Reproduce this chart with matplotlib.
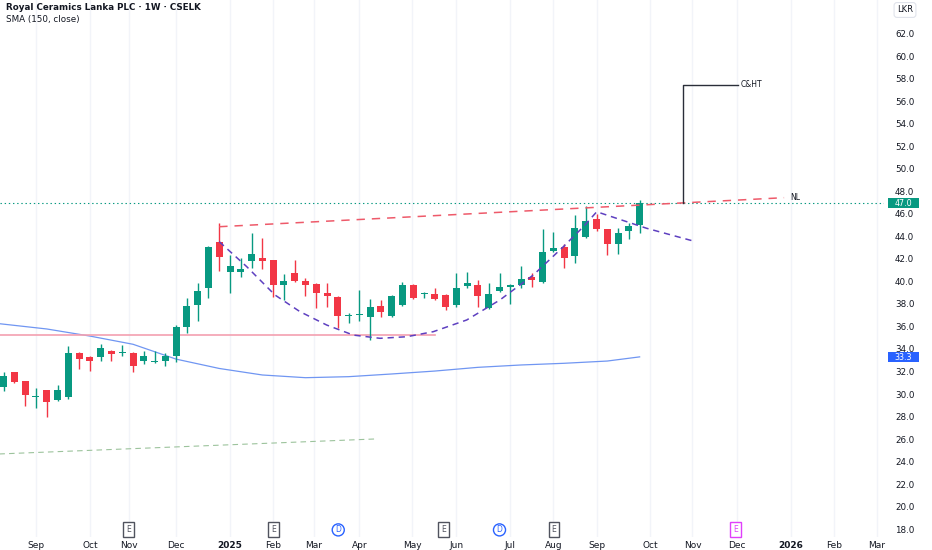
import matplotlib
matplotlib.use("Agg")
import matplotlib.pyplot as plt
from matplotlib.patches import Rectangle

W, H = 932, 550
plt.rcParams['font.family'] = ['DejaVu Sans']
plt.rcParams['lines.scale_dashes'] = False

# ---------------- data ----------------
# weekly candles, week index 0 = week of 2024-08-12
week_start = "2024-08-12"
opens = [30.65, 31.93, 31.16, 29.72, 30.33, 29.44, 29.71, 33.62, 33.32, 33.32,
         33.82, 33.65, 33.67, 32.93, 32.84, 32.93, 33.40, 35.96, 37.91, 39.40,
         43.48, 40.87, 40.87, 41.82, 42.06, 41.91, 39.69, 40.73, 40.04, 39.75,
         39.00, 38.65, 36.93, 36.98, 36.82, 37.82, 36.93, 37.91, 39.69, 38.85,
         38.89, 38.80, 37.91, 39.63, 39.69, 37.62, 39.18, 39.48, 39.69, 40.43,
         39.93, 42.71, 43.10, 42.30, 43.93, 45.53, 44.64, 43.31, 44.49, 45.02]
highs = [31.98, 31.98, 31.20, 30.56, 30.40, 30.80, 34.27, 33.73, 33.35, 34.42,
         33.90, 34.36, 33.70, 33.82, 33.82, 33.62, 36.10, 38.51, 39.84, 43.16,
         45.17, 42.36, 42.06, 44.27, 43.84, 41.95, 40.64, 41.91, 40.28, 39.84,
         39.84, 38.70, 37.17, 39.24, 38.42, 38.36, 38.80, 39.98, 39.75, 39.04,
         39.40, 38.85, 40.73, 40.87, 40.13, 39.90, 40.73, 39.75, 41.38, 40.73,
         44.64, 44.37, 43.30, 45.91, 46.71, 46.00, 44.70, 44.73, 45.23, 47.20]
lows = [30.30, 30.95, 28.96, 28.78, 27.93, 29.40, 29.56, 32.22, 32.04, 32.96,
        32.96, 33.38, 31.93, 32.67, 32.80, 32.51, 32.81, 35.40, 36.49, 38.56,
        40.93, 38.96, 40.43, 41.17, 41.08, 38.60, 38.36, 39.93, 38.71, 37.67,
        37.76, 35.84, 36.28, 36.52, 34.80, 36.87, 36.87, 37.85, 38.40, 38.51,
        38.35, 37.47, 37.75, 39.40, 37.70, 37.55, 39.04, 37.97, 39.40, 39.54,
        39.85, 42.60, 41.17, 41.67, 43.90, 44.49, 42.36, 42.42, 43.75, 44.34]
closes = [31.63, 31.09, 29.91, 29.80, 29.32, 30.33, 33.62, 33.11, 32.93, 34.12,
          33.53, 33.72, 32.51, 33.35, 32.90, 33.35, 35.98, 37.82, 39.16, 43.04,
          42.20, 41.40, 41.11, 42.44, 41.85, 39.69, 40.04, 40.04, 39.69, 39.00,
          38.71, 36.93, 37.00, 37.05, 37.70, 37.32, 38.71, 39.69, 38.51, 38.92,
          38.42, 37.70, 39.40, 39.84, 38.71, 38.89, 39.48, 39.69, 40.22, 40.13,
          42.60, 42.95, 42.12, 44.79, 45.40, 44.64, 43.31, 44.28, 44.93, 47.00]

# SMA(150) readings at selected weeks
sma_week = [-0.4, 4, 8, 12, 16, 20, 24, 28, 32, 36, 40, 44, 48, 52, 56, 59]
sma_vals = [36.25, 35.78, 35.15, 34.42, 33.10, 32.27, 31.69, 31.45, 31.54,
            31.78, 32.04, 32.37, 32.58, 32.73, 32.93, 33.30]

# time axis labels (week index positions)
tick_pos = [3, 8, 11.6, 16, 21, 25, 28.8, 33, 37.9, 42, 47, 51, 55, 60, 63.9,
            68, 73, 77, 81]
tick_labels = ["Sep", "Oct", "Nov", "Dec", "2025", "Feb", "Mar", "Apr", "May",
               "Jun", "Jul", "Aug", "Sep", "Oct", "Nov", "Dec", "2026", "Feb",
               "Mar"]
price_ticks = [18.0 + 2.0 * i for i in range(23)]

# events
event_pos = [11.56, 25.0, 31.04, 40.8, 46.0, 51.05, 67.9]
event_kind = ["E", "E", "D", "E", "D", "E", "E*"]

# drawings
neck_x = [20.0, 72.4]
neck_y = [44.87, 47.45]
cup_x = [20.0, 22.55, 25.17, 27.49, 29.97, 32.43, 34.91, 37.39, 39.86, 42.96,
         46.04, 49.14, 51.92, 53.78, 55.02, 59.65, 63.97]
cup_y = [43.54, 41.32, 38.80, 37.32, 36.13, 35.24, 34.95, 35.09, 35.54, 36.58,
         38.36, 40.58, 43.09, 44.87, 46.20, 44.73, 43.60]
support_level = 35.2
support_x = [-0.4, 40.0]
low_trend_x = [-0.4, 34.4]
low_trend_y = [24.67, 26.0]
target_x = [63.0, 63.0, 68.1]
target_y = [46.96, 57.47, 57.47]
last_price = 47.0
sma_last = 33.3

UP = "#089981"
DN = "#f23645"
TXT = "#131722"

fig = plt.figure(figsize=(W / 100, H / 100), dpi=100)
fig.patch.set_facecolor("white")
ax = fig.add_axes([0, 13 / H, 884 / W, 537 / H])
ax.set_facecolor("white")
for s in ax.spines.values():
    s.set_visible(False)

ax.set_xlim(-0.339, 81.67)
ax.set_ylim(17.289, 65.022)

ax.set_xticks(tick_pos)
ax.set_xticklabels(tick_labels)
for lab in ax.get_xticklabels():
    if lab.get_text() in ("2025", "2026"):
        lab.set_fontweight("bold")
ax.tick_params(axis="x", length=0, pad=3, labelsize=6.5, colors=TXT)
ax.yaxis.tick_right()
ax.set_yticks(price_ticks)
ax.set_yticklabels([f"{v:.1f}" for v in price_ticks])
ax.tick_params(axis="y", length=0, pad=8, labelsize=6.3, colors=TXT)
ax.grid(axis="x", color="#f2f4f9", lw=1)
ax.set_axisbelow(True)

# candles
bw = 0.65
for k in range(len(opens)):
    o, h, l, c = opens[k], highs[k], lows[k], closes[k]
    col = UP if c >= o else DN
    ax.vlines(k, l, h, color=col, lw=1, zorder=3)
    b0 = min(o, c)
    bh = max(abs(c - o), 0.09)
    ax.add_patch(Rectangle((k - bw / 2, b0), bw, bh, facecolor=col,
                           edgecolor=col, lw=0, zorder=4))

# SMA
ax.plot(sma_week, sma_vals, color="#7096f2", lw=0.9, zorder=2)

# support line and lower trend
ax.plot(support_x, [support_level, support_level], color="#f3a0b0", lw=1.2, zorder=2)
ax.plot(low_trend_x, low_trend_y, color="#9cc39c", lw=0.8, dashes=(4, 3), zorder=2)

# last price dotted line
ax.axhline(last_price, color=UP, lw=0.8, dashes=(1, 2), zorder=2)

# neckline
ax.plot(neck_x, neck_y, color="#ee5a6a", lw=1.1, dashes=(6, 5), zorder=5)
ax.text(72.6 + 0.35, neck_y[-1], "NL", fontsize=5.5, color=TXT, ha="left",
        va="center", zorder=6)
# cup curve
ax.plot(cup_x, cup_y, color="#5e40c0", lw=1.1, dashes=(4.5, 3.5), zorder=5)
# target callout
ax.plot(target_x, target_y, color="#2a2e39", lw=1.0, zorder=5)
ax.text(target_x[-1] + 0.3, target_y[-1], "C&HT", fontsize=5.5, color=TXT,
        ha="left", va="center", zorder=6)

# events at bottom
ev_y = 17.92
for p, kind in zip(event_pos, event_kind):
    if kind == "E":
        ax.text(p, ev_y, "E", fontsize=5.5, color="#50535e", ha="center", va="center",
                bbox=dict(boxstyle="square,pad=0.4", fc="white", ec="#50535e", lw=1.0),
                zorder=7)
    elif kind == "D":
        ax.text(p, ev_y, "D", fontsize=5.5, color="#2962ff", ha="center", va="center",
                bbox=dict(boxstyle="circle,pad=0.2", fc="white", ec="#2962ff", lw=1.0),
                zorder=7)
    else:
        ax.text(p, ev_y, "E", fontsize=5.5, color="#e040fb", ha="center", va="center",
                bbox=dict(boxstyle="square,pad=0.4", fc="white", ec="#e040fb", lw=1.0),
                zorder=7)

# price labels on scale
ytr = ax.get_yaxis_transform()
for val, col in ((last_price, UP), (sma_last, "#2962ff")):
    ax.add_patch(Rectangle((1.0045, val - 0.45), 0.035, 0.9, transform=ytr,
                           facecolor=col, edgecolor="none", clip_on=False, zorder=8))
    ax.text(1.0221, val - 0.06, f"{val:.1f}", transform=ytr, fontsize=5.8, color="white",
            ha="center", va="center", clip_on=False, zorder=9)

# currency label
fig.text(905 / W, 1 - 10 / H, "LKR", fontsize=6, color=TXT, ha="center", va="center",
         bbox=dict(boxstyle="round,pad=0.35", fc="white", ec="#e0e3eb", lw=0.8))

# titles
fig.text(6 / W, 1 - 8 / H, "Royal Ceramics Lanka PLC · 1W · CSELK", fontsize=6.3,
         fontweight="bold", color=TXT, ha="left", va="center")
fig.text(6 / W, 1 - 19.5 / H, "SMA (150, close)", fontsize=6.3, color=TXT,
         ha="left", va="center")

fig.savefig("out.png", dpi=100, facecolor="white")
